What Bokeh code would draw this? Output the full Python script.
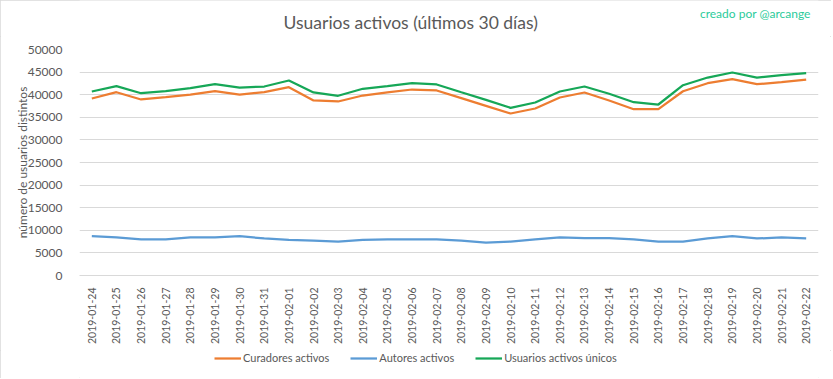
from math import pi
from bokeh.plotting import figure
from bokeh.layouts import column
from bokeh.models import (FactorRange, Range1d, Legend, LegendItem, Label,
                          SingleIntervalTicker, NumeralTickFormatter)
from bokeh.embed import file_html
from bokeh.resources import INLINE

dates = ["2019-01-24", "2019-01-25", "2019-01-26", "2019-01-27", "2019-01-28", "2019-01-29",
         "2019-01-30", "2019-01-31", "2019-02-01", "2019-02-02", "2019-02-03", "2019-02-04",
         "2019-02-05", "2019-02-06", "2019-02-07", "2019-02-08", "2019-02-09", "2019-02-10",
         "2019-02-11", "2019-02-12", "2019-02-13", "2019-02-14", "2019-02-15", "2019-02-16",
         "2019-02-17", "2019-02-18", "2019-02-19", "2019-02-20", "2019-02-21", "2019-02-22"]

curadores = [39160, 40550, 38940, 39450, 40040, 40770, 40040, 40550, 41660,
             38720, 38500, 39820, 40490, 41150, 40930, 39230, 37540, 35840, 36950, 39380,
             40490, 38720, 36790, 36790, 40770, 42540, 43430, 42320, 42770, 43360]

autores = [8700, 8410, 7970, 7970, 8410, 8410, 8700, 8190, 7900,
           7740, 7520, 7900, 7970, 7970, 7970, 7740, 7300, 7520, 7970, 8410,
           8250, 8250, 7970, 7520, 7520, 8190, 8700, 8190, 8410, 8190]

usuarios = [40710, 41880, 40330, 40770, 41440, 42320, 41590, 41810, 43140,
            40490, 39760, 41310, 41880, 42540, 42260, 40550, 38870, 37100, 38270, 40710,
            41810, 40200, 38340, 37830, 42100, 43800, 44910, 43800, 44310, 44760]

series_names = ["Curadores activos", "Autores activos", "Usuarios activos únicos"]
series_values = [curadores, autores, usuarios]
colors = ["#ED7D31", "#5B9BD5", "#16A757"]

title_text = "Usuarios activos (últimos 30 días)"
credit_text = "creado por @arcange"

TXT = "#595959"
FONT = "Lato"
W = 831
LEFT = 79


def bare(fig):
    fig.outline_line_color = None
    fig.xgrid.visible = False
    fig.ygrid.visible = False


# ---------- header (title + credit) ----------
head = figure(width=W, height=36, x_range=Range1d(LEFT, W), y_range=Range1d(0, 36),
              output_backend="svg", toolbar_location=None,
              x_axis_type=None, y_axis_type=None,
              min_border_left=LEFT, min_border_right=0, min_border_top=0, min_border_bottom=0)
bare(head)
head.add_layout(Label(x=416, y=14, text=title_text, text_font=FONT, text_font_size="17.5px",
                      text_color=TXT, text_align="center", text_baseline="middle"))
head.add_layout(Label(x=823, y=23, text=credit_text, text_font=FONT, text_font_size="12px",
                      text_color="#2BCB9A", text_align="right", text_baseline="middle"))

# ---------- main chart ----------
p = figure(x_range=FactorRange(factors=dates, range_padding=0),
           y_range=Range1d(0, 50000),
           width=W, height=314,
           output_backend="svg", toolbar_location=None,
           min_border_left=LEFT, min_border_right=13,
           min_border_top=13, min_border_bottom=75)

p.outline_line_color = None
p.xgrid.grid_line_color = None
p.ygrid.grid_line_color = "#D9D9D9"
p.ygrid.grid_line_width = 1

p.yaxis.ticker = SingleIntervalTicker(interval=5000)
p.yaxis.formatter = NumeralTickFormatter(format="0")
p.yaxis.axis_line_color = None
p.yaxis.major_tick_line_color = None
p.yaxis.minor_tick_line_color = None
p.yaxis.major_label_text_font = FONT
p.yaxis.major_label_text_font_size = "12px"
p.yaxis.major_label_text_color = TXT
p.yaxis.major_label_standoff = 11
p.yaxis.axis_label = "número de usuarios distintos"
p.yaxis.axis_label_text_font = FONT
p.yaxis.axis_label_text_font_size = "12px"
p.yaxis.axis_label_text_font_style = "normal"
p.yaxis.axis_label_text_color = TXT
p.yaxis.axis_label_standoff = -5

p.xaxis.axis_line_color = "#D9D9D9"
p.xaxis.major_tick_line_color = None
p.xaxis.minor_tick_line_color = None
p.xaxis.major_label_orientation = pi / 2
p.xaxis.major_label_text_font = FONT
p.xaxis.major_label_text_font_size = "10.5px"
p.xaxis.major_label_text_color = TXT
p.xaxis.major_label_standoff = 6

for vals, c in zip(series_values, colors):
    p.line(dates, vals, line_color=c, line_width=2.25)

# ---------- legend strip ----------
leg = figure(width=W, height=28, x_range=Range1d(LEFT, W), y_range=Range1d(0, 28),
             output_backend="svg", toolbar_location=None,
             x_axis_type=None, y_axis_type=None,
             min_border_left=LEFT, min_border_right=0, min_border_top=0, min_border_bottom=0)
bare(leg)
items = []
for name, vals, c in zip(series_names, series_values, colors):
    r = leg.line(x=list(range(len(dates))), y=vals, line_color=c, line_width=2.25, visible=False)
    items.append(LegendItem(label=name, renderers=[r]))
legend = Legend(items=items, orientation="horizontal", location=(214 - LEFT, 14),
                label_text_font=FONT, label_text_font_size="11px", label_text_color=TXT,
                glyph_width=27, glyph_height=12, label_height=12, label_standoff=2, spacing=21,
                padding=0, margin=0, inactive_fill_alpha=0,
                border_line_color=None, background_fill_alpha=0)
leg.add_layout(legend)

layout = column(head, p, leg, spacing=0,
                styles={"outline": "1px solid #D9D9D9", "outline-offset": "-1px"})

open("out.html", "w").write(file_html(layout, INLINE))
